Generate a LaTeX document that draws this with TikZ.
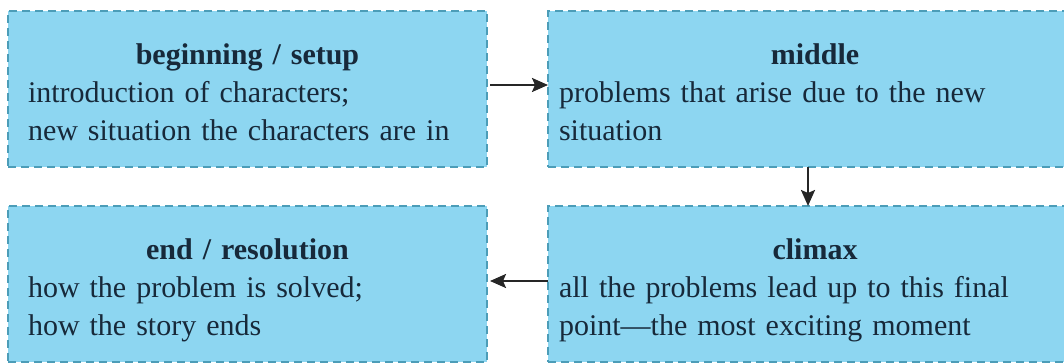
\documentclass[tikz,border=0pt]{standalone}
\usepackage{fontspec}
\setmainfont{Liberation Serif}
\usetikzlibrary{positioning,arrows.meta}
\definecolor{boxfill}{HTML}{8DD6F1}
\definecolor{boxline}{HTML}{4C9DB8}
\definecolor{ink}{HTML}{17293A}

\begin{document}
\begin{tikzpicture}[
    part/.style={draw=boxline, fill=boxfill, line width=1.6pt, dash pattern=on 8pt off 5pt,
      minimum height=156pt, inner ysep=0pt, outer sep=0pt, text height=30pt, text depth=78pt,
      text=ink, font=\fontsize{30}{38}\selectfont},
    leftpart/.style={part, inner xsep=20pt, text width=439pt},
    rightpart/.style={part, inner xsep=11pt, text width=512pt},
    flow/.style={line width=2.2pt, draw=black!85, -{Stealth[length=16pt,width=14pt,inset=3pt]}}
  ]
  \useasboundingbox (0,0) rectangle (1064pt,363pt);

  % top row
  \node[leftpart, anchor=north west] (begin) at (8pt,352pt)
    {{\centering\bfseries beginning / setup\par}\raggedright introduction of characters;\\new situation the characters are in};
  \node[rightpart, right=61pt of begin] (middle)
    {{\centering\bfseries middle\par}\raggedright problems that arise due to the new\\situation};

  % bottom row
  \node[leftpart, below=39pt of begin] (ending)
    {{\centering\bfseries end / resolution\par}\raggedright how the problem is solved;\\how the story ends};
  \node[rightpart, below=39pt of middle] (climax)
    {{\centering\bfseries climax\par}\raggedright all the problems lead up to this final\\point---the most exciting moment};

  % arrows
  \draw[flow, shorten <=3pt] ([yshift=4pt]begin.east) -- ([yshift=4pt]middle.west);
  \draw[flow] ([xshift=-7pt]middle.south) -- ([xshift=-7pt]climax.north);
  \draw[flow, shorten >=3pt] ([yshift=3pt]climax.west) -- ([yshift=3pt]ending.east);
\end{tikzpicture}
\end{document}
